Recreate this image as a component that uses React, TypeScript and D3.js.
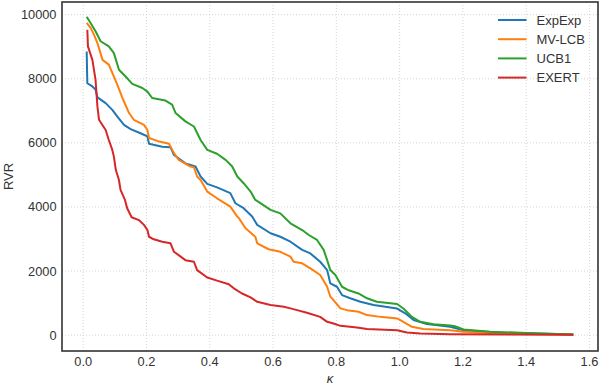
import React from 'react';
import { scaleLinear, line } from 'd3';

const seriesNames = ['ExpExp', 'MV-LCB', 'UCB1', 'EXERT'];
const seriesColors = ['#1f77b4', '#ff7f0e', '#2ca02c', '#d62728'];

const xTicks = [0, 0.2, 0.4, 0.6, 0.8, 1.0, 1.2, 1.4, 1.6];
const yTicks = [0, 2000, 4000, 6000, 8000, 10000];

// ExpExp
const expExp: [number, number][] = [
  [0.011, 8850], [0.013, 7860], [0.029, 7760], [0.039, 7660], [0.045, 7420], [0.071, 7240],
  [0.092, 7030], [0.108, 6820], [0.129, 6560], [0.150, 6430], [0.181, 6300], [0.203, 6200],
  [0.208, 5970], [0.250, 5880], [0.276, 5860], [0.287, 5620], [0.323, 5360], [0.355, 5260],
  [0.371, 4950], [0.392, 4720], [0.423, 4610], [0.465, 4430], [0.481, 4115], [0.507, 3960],
  [0.534, 3700], [0.550, 3440], [0.592, 3180], [0.623, 3070], [0.655, 2915], [0.692, 2660],
  [0.718, 2550], [0.749, 2290], [0.771, 2030], [0.781, 1615], [0.802, 1510], [0.818, 1250],
  [0.844, 1150], [0.876, 1040], [0.918, 940], [0.992, 830], [1.018, 680], [1.044, 470],
  [1.086, 345], [1.160, 260], [1.202, 155], [1.307, 80], [1.549, 20],
];

// MV-LCB
const mvLcb: [number, number][] = [
  [0.011, 9740], [0.024, 9580], [0.034, 9375], [0.045, 9115], [0.061, 8590], [0.081, 8440],
  [0.092, 8180], [0.108, 7810], [0.124, 7400], [0.145, 6930], [0.160, 6720], [0.192, 6560],
  [0.203, 6400], [0.208, 6150], [0.234, 6060], [0.271, 5970], [0.287, 5680], [0.302, 5470],
  [0.339, 5260], [0.350, 5240], [0.360, 4950], [0.371, 4840], [0.392, 4480], [0.423, 4270],
  [0.465, 4010], [0.487, 3700], [0.492, 3650], [0.513, 3335], [0.544, 3070], [0.550, 2865],
  [0.586, 2680], [0.623, 2600], [0.655, 2450], [0.665, 2290], [0.692, 2240], [0.718, 2085],
  [0.749, 1875], [0.771, 1510], [0.781, 1200], [0.791, 1095], [0.813, 835], [0.834, 780],
  [0.870, 730], [0.897, 625], [0.939, 570], [0.992, 520], [1.012, 415], [1.039, 260],
  [1.075, 190], [1.160, 155], [1.202, 105], [1.307, 50], [1.549, 15],
];

// UCB1
const ucb1: [number, number][] = [
  [0.011, 9930], [0.017, 9840], [0.039, 9480], [0.055, 9170], [0.081, 9010], [0.097, 8800],
  [0.113, 8280], [0.134, 8070], [0.155, 7840], [0.187, 7710], [0.203, 7600], [0.218, 7400],
  [0.260, 7320], [0.281, 7190], [0.292, 6930], [0.323, 6670], [0.350, 6510], [0.371, 6090],
  [0.392, 5780], [0.423, 5660], [0.450, 5470], [0.471, 5260], [0.487, 4950], [0.507, 4740],
  [0.529, 4480], [0.544, 4220], [0.560, 4120], [0.592, 3910], [0.623, 3800], [0.655, 3490],
  [0.692, 3280], [0.713, 3125], [0.739, 2970], [0.760, 2660], [0.771, 2340], [0.781, 2030],
  [0.797, 1875], [0.818, 1510], [0.839, 1400], [0.870, 1300], [0.897, 1150], [0.928, 1040],
  [0.992, 970], [1.012, 830], [1.039, 570], [1.065, 415], [1.107, 340], [1.160, 300],
  [1.175, 280], [1.202, 175], [1.286, 105], [1.402, 70], [1.549, 20],
];

// EXERT
const exert: [number, number][] = [
  [0.013, 9530], [0.015, 9010], [0.029, 8590], [0.039, 7970], [0.045, 7130], [0.050, 6720],
  [0.071, 6400], [0.081, 6090], [0.092, 5780], [0.097, 5570], [0.103, 5160], [0.113, 4840],
  [0.118, 4530], [0.132, 4220], [0.139, 3960], [0.153, 3680], [0.176, 3590], [0.192, 3440],
  [0.203, 3280], [0.208, 3070], [0.223, 2990], [0.250, 2915], [0.276, 2865], [0.287, 2600],
  [0.308, 2450], [0.323, 2340], [0.350, 2290], [0.360, 2030], [0.392, 1800], [0.423, 1700],
  [0.460, 1590], [0.476, 1460], [0.502, 1300], [0.529, 1180], [0.550, 1040], [0.592, 940],
  [0.634, 885], [0.655, 835], [0.676, 780], [0.707, 700], [0.749, 570], [0.771, 415],
  [0.791, 365], [0.813, 290], [0.865, 240], [0.897, 190], [0.992, 155], [1.023, 85],
  [1.065, 50], [1.160, 30], [1.549, 15],
];

const allSeries = [expExp, mvLcb, ucb1, exert];

const font = '"Liberation Sans", Arial, sans-serif';

export default function App() {
  const width = 603;
  const height = 390;
  const plot = { left: 62, right: 598, top: 2, bottom: 351 };

  const x = scaleLinear().domain([-0.067, 1.627]).range([plot.left, plot.right]);
  const y = scaleLinear().domain([-495, 10395]).range([plot.bottom, plot.top]);

  const path = line<[number, number]>()
    .x(d => x(d[0]))
    .y(d => y(d[1]));

  return (
    <svg
      width={width}
      height={height}
      style={{ position: 'absolute', left: 0, top: 0, background: '#fff' }}
      fontFamily={font}
    >
      <rect x={0} y={0} width={width} height={height} fill="#fff" />
      <g className="grid">
        {xTicks.map(t => (
          <line key={'gx' + t} x1={x(t)} x2={x(t)} y1={plot.top} y2={plot.bottom}
            stroke="#d0d0d0" strokeWidth={0.9} strokeDasharray="1,2" />
        ))}
        {yTicks.map(t => (
          <line key={'gy' + t} x1={plot.left} x2={plot.right} y1={y(t)} y2={y(t)}
            stroke="#d0d0d0" strokeWidth={0.9} strokeDasharray="1,2" />
        ))}
      </g>
      <g className="series">
        {allSeries.map((s, i) => (
          <path key={seriesNames[i]} d={path(s) || ''} fill="none" stroke={seriesColors[i]}
            strokeWidth={2} strokeLinejoin="round" strokeLinecap="butt" />
        ))}
      </g>
      <rect x={plot.left} y={plot.top} width={plot.right - plot.left} height={plot.bottom - plot.top}
        fill="none" stroke="#333" strokeWidth={1.6} />
      <g className="x-axis" fontSize={12.8} fill="#333">
        {xTicks.map(t => (
          <text key={'tx' + t} x={x(t)} y={366} textAnchor="middle">{t.toFixed(1)}</text>
        ))}
      </g>
      <g className="y-axis" fontSize={12.8} fill="#333">
        {yTicks.map(t => (
          <text key={'ty' + t} x={56.5} y={y(t)} dy="0.35em" textAnchor="end">{t}</text>
        ))}
      </g>
      <text x={(plot.left + plot.right) / 2} y={383} textAnchor="middle" fontSize={13}
        fontStyle="italic" fill="#333">κ</text>
      <text transform={`translate(13,${(plot.top + plot.bottom) / 2}) rotate(-90)`} textAnchor="middle"
        fontSize={13} fill="#333">RVR</text>
      <g className="legend">
        {seriesNames.map((name, i) => (
          <g key={name} transform={`translate(498,${20 + i * 19.2})`}>
            <line x1={0} x2={28.5} y1={0} y2={0} stroke={seriesColors[i]} strokeWidth={2} />
            <text x={38.5} y={0} dy="0.35em" fontSize={13} fill="#333">{name}</text>
          </g>
        ))}
      </g>
    </svg>
  );
}
